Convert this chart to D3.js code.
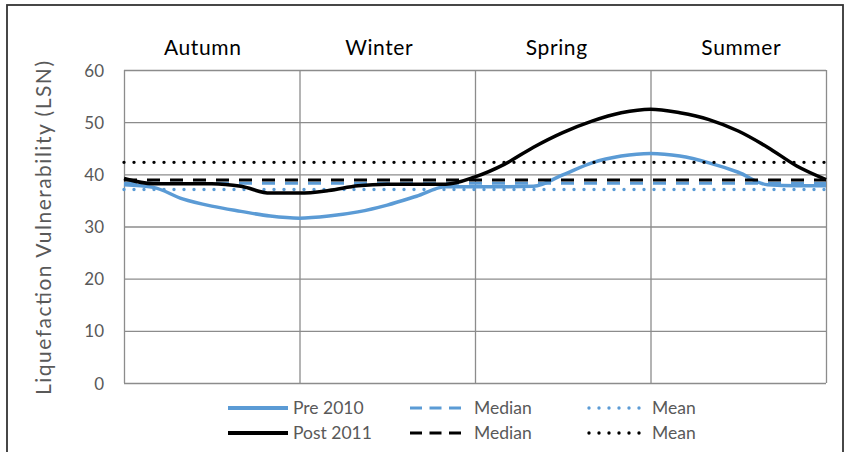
<!DOCTYPE html>
<html>
<head>
<meta charset="utf-8">
<script src="https://cdn.jsdelivr.net/npm/d3@7"></script>
<style>
  html, body { margin: 0; padding: 0; background: #fff; }
  svg { display: block; }
  text { font-family: Lato, "Open Sans", sans-serif; }
</style>
</head>
<body>
<svg id="chart" width="845" height="452"></svg>
<script>
// ---- data ----
const months = [0,0.5,1,1.5,2,2.5,3,3.5,4,4.5,5,5.5,6,6.5,7,7.5,8,8.5,9,9.5,10,10.5,11,11.5,12];
const pre2010 = [38.0,37.5,35.3,33.9,32.9,32.0,31.6,32.0,32.8,34.1,35.8,37.6,37.6,37.6,37.7,39.9,42.2,43.5,44.0,43.5,42.2,40.4,38.0,37.8,37.8];
const post2011 = [39.2,38.2,38.2,38.2,37.7,36.4,36.4,36.9,37.8,38.1,38.1,38.1,39.5,41.9,45.2,48.0,50.2,51.8,52.5,51.8,50.5,48.3,45.2,41.6,39.0];
const preMedian = 38.3;
const preMean = 37.1;
const postMedian = 38.9;
const postMean = 42.3;
const seasons = ["Autumn","Winter","Spring","Summer"];
const seasonBounds = [0,3,6,9,12];
const yTicks = [0,10,20,30,40,50,60];
const legendLabels = ["Pre 2010","Median","Mean","Post 2011","Median","Mean"];

const blue = "#5b9bd5", black = "#000000", grid = "#8c8c8c", txt = "#595959";

const svg = d3.select("#chart");
const L = 124, R = 826, T = 70, B = 383;
const x = d3.scaleLinear().domain([0,12]).range([L,R]);
const y = d3.scaleLinear().domain([0,60]).range([B,T]);

// outer border
svg.append("rect").attr("x",7).attr("y",5).attr("width",836).attr("height",460)
  .attr("fill","none").attr("stroke","#333").attr("stroke-width",1.8);

// gridlines
const gy = d3.axisLeft(y).tickValues(yTicks).tickSize(-(R-L)).tickFormat("");
svg.append("g").attr("transform",`translate(${L},0)`).call(gy)
  .call(g=>g.select(".domain").remove())
  .selectAll("line").attr("stroke",grid).attr("stroke-width",1.3);
const gx = d3.axisBottom(x).tickValues(seasonBounds).tickSize(-(B-T)).tickFormat("");
svg.append("g").attr("transform",`translate(0,${B})`).call(gx)
  .call(g=>g.select(".domain").remove())
  .selectAll("line").attr("stroke",grid).attr("stroke-width",1.3);

// y tick labels
const ya = d3.axisLeft(y).tickValues(yTicks).tickSize(0).tickPadding(20);
svg.append("g").attr("transform",`translate(${L},0)`).call(ya)
  .call(g=>g.select(".domain").remove())
  .selectAll("text").attr("fill",txt).attr("dy","0.36em")
  .style("font-size","17px").style("font-family","Lato, sans-serif");

// y title
svg.append("text").attr("transform",`translate(51,228) rotate(-90)`)
  .attr("text-anchor","middle").attr("fill",txt).style("font-size","21px")
  .attr("textLength",334).attr("lengthAdjust","spacing")
  .text("Liquefaction Vulnerability (LSN)");

// season labels (text boxes sit slightly off the quarter centres in the original)
const seasonShift = [-9,-8,-6,3];
svg.selectAll(".season").data(seasons).join("text")
  .attr("x",(d,i)=>x((seasonBounds[i]+seasonBounds[i+1])/2)+seasonShift[i])
  .attr("y",55).attr("text-anchor","middle").attr("fill","#000")
  .style("font-size","21px").style("letter-spacing","0.6px").text(d=>d);

const line = d3.line().x((d,i)=>x(months[i])).y(d=>y(d)).curve(d3.curveMonotoneX);

function hline(v, color, dash, cap, w) {
  svg.append("line").attr("x1",L).attr("x2",R).attr("y1",y(v)).attr("y2",y(v))
    .attr("stroke",color).attr("stroke-width",w).attr("stroke-dasharray",dash)
    .attr("stroke-linecap",cap);
}

// pre 2010 series
svg.append("path").datum(pre2010).attr("d",line).attr("fill","none")
  .attr("stroke",blue).attr("stroke-width",3.5).attr("stroke-linejoin","round");
hline(preMedian, blue, "13 10", "butt", 3);
hline(preMean, blue, "0 10", "round", 3.4);
// post 2011 series
svg.append("path").datum(post2011).attr("d",line).attr("fill","none")
  .attr("stroke",black).attr("stroke-width",3.5).attr("stroke-linejoin","round");
hline(postMedian, black, "13 10", "butt", 3);
hline(postMean, black, "0 10", "round", 3.4);

// legend
const legCols = [228, 410, 588];
const legRows = [408, 433];
const legStyles = [
  {c:blue, dash:null, cap:"butt", w:4},
  {c:blue, dash:"12 7.5", cap:"butt", w:3},
  {c:blue, dash:"0 10", cap:"round", w:3.4},
  {c:black, dash:null, cap:"butt", w:4},
  {c:black, dash:"12 7.5", cap:"butt", w:3},
  {c:black, dash:"0 10", cap:"round", w:3.4}
];
legendLabels.forEach((lab,i)=>{
  const r = Math.floor(i/3), c = i%3;
  const s = legStyles[i];
  const x0 = legCols[c], yy = legRows[r];
  const x1 = c===0 ? x0+60 : x0+57;
  svg.append("line").attr("x1",c===2? x0+1 : x0).attr("x2",x1).attr("y1",yy).attr("y2",yy)
    .attr("stroke",s.c).attr("stroke-width",s.w).attr("stroke-linecap",s.cap)
    .attr("stroke-dasharray",s.dash);
  svg.append("text").attr("x",x0+(c===0?65:64)).attr("y",yy+6).attr("fill",txt)
    .style("font-size","17.5px").text(lab);
});
</script>
</body>
</html>
